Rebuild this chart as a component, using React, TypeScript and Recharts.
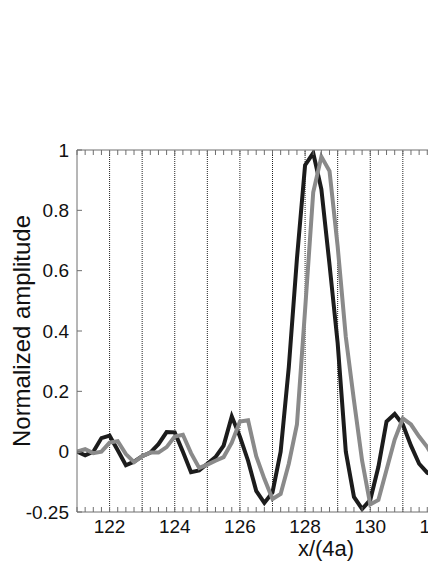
import React from 'react';
import { LineChart, Line, XAxis, YAxis, ReferenceLine } from 'recharts';

const xValues = [
  121, 121.25, 121.5, 121.75, 122, 122.25, 122.5, 122.75, 123, 123.25, 123.5, 123.75,
  124, 124.25, 124.5, 124.75, 125, 125.25, 125.5, 125.75, 126, 126.25, 126.5, 126.75,
  127, 127.25, 127.5, 127.75, 128, 128.25, 128.5, 128.75, 129, 129.25, 129.5, 129.75,
  130, 130.25, 130.5, 130.75, 131, 131.25, 131.5, 131.75, 132, 132.25,
];

const blackSeries = [
  0.0, -0.012, 0.0, 0.045, 0.053, 0.005, -0.045, -0.033, -0.015, -0.003, 0.025, 0.065,
  0.064, 0.0, -0.068, -0.062, -0.04, -0.018, 0.02, 0.117, 0.05, -0.03, -0.13, -0.17,
  -0.135, 0.0, 0.28, 0.64, 0.95, 0.99, 0.87, 0.62, 0.36, 0.0, -0.15, -0.19,
  -0.16, -0.05, 0.1, 0.125, 0.09, 0.02, -0.04, -0.07, -0.08, -0.07,
];

const graySeries = [
  0.0, 0.008, -0.005, 0.0, 0.03, 0.035, -0.008, -0.035, -0.015, -0.003, -0.003, 0.015,
  0.05, 0.056, -0.005, -0.054, -0.043, -0.03, -0.018, 0.03, 0.1, 0.104, -0.015, -0.09,
  -0.157, -0.14, -0.04, 0.09, 0.47, 0.86, 0.978, 0.93, 0.68, 0.38, 0.17, -0.03,
  -0.175, -0.16, -0.06, 0.04, 0.11, 0.09, 0.05, 0.015, -0.03, -0.06,
];

const xMinorTicks = [
  121, 121.25, 121.5, 121.75, 122, 122.25, 122.5, 122.75, 123, 123.25, 123.5, 123.75,
  124, 124.25, 124.5, 124.75, 125, 125.25, 125.5, 125.75, 126, 126.25, 126.5, 126.75,
  127, 127.25, 127.5, 127.75, 128, 128.25, 128.5, 128.75, 129, 129.25, 129.5, 129.75,
  130, 130.25, 130.5, 130.75, 131, 131.25, 131.5, 131.75, 132, 132.25, 132.5, 132.75, 133,
];
const xLabelTicks = [122, 124, 126, 128, 130, 132];
const gridX = [122, 123, 124, 125, 126, 127, 128, 129, 130, 131, 132];
const yTicks = [-0.2, 0, 0.2, 0.4, 0.6, 0.8, 1];
const yTickLabels = ['-0.25', '0', '0.2', '0.4', '0.6', '0.8', '1'];

const FONT = 'Liberation Sans, Arial, Helvetica, sans-serif';
const AXIS_GRAY = '#6e6e6e';

const data = xValues.map((x, i) => ({ x, black: blackSeries[i], gray: graySeries[i] }));

const BottomTick = (props: any) => {
  const { x, y } = props;
  return <line x1={x} x2={x} y1={y} y2={y - 5} stroke={AXIS_GRAY} strokeWidth={1} />;
};

const BottomLabel = (props: any) => {
  const { x, y, payload } = props;
  return (
    <text x={x} y={y + 20} textAnchor="middle" fontSize={19} fill="#111" fontFamily={FONT}>
      {payload.value}
    </text>
  );
};

const TopTick = (props: any) => {
  const { x, y } = props;
  return <line x1={x} x2={x} y1={y} y2={y + 5} stroke={AXIS_GRAY} strokeWidth={1} />;
};

const LeftTick = (props: any) => {
  const { x, y, payload } = props;
  const idx = yTicks.indexOf(payload.value);
  const label = idx >= 0 ? yTickLabels[idx] : String(payload.value);
  return (
    <g>
      <line x1={x + 8} x2={x + 13} y1={y} y2={y} stroke={AXIS_GRAY} strokeWidth={1} />
      <text x={x} y={y} dy={6.5} textAnchor="end" fontSize={19} fill="#111" fontFamily={FONT}>
        {label}
      </text>
    </g>
  );
};

const XLabel = (props: any) => {
  const vb = props.viewBox || { x: 69, y: 504 };
  return (
    <text x={vb.x + 249} y={vb.y + 43} textAnchor="middle" fontSize={22} fill="#111" fontFamily={FONT}>
      x/(4a)
    </text>
  );
};

const YLabel = () => {
  const cx = 22;
  const cy = 323;
  return (
    <text
      x={cx}
      y={cy}
      transform={`rotate(-90 ${cx} ${cy})`}
      textAnchor="middle"
      fontSize={24}
      fill="#111"
      fontFamily={FONT}
    >
      Normalized amplitude
    </text>
  );
};

export default function App() {
  return (
    <div style={{ width: 428, height: 556, overflow: 'hidden' }}>
      <LineChart
        width={480}
        height={556}
        data={data}
        margin={{ top: 141, right: 20, bottom: 0, left: 0 }}
      >
        <XAxis
          dataKey="x"
          type="number"
          domain={[121, 133]}
          ticks={xMinorTicks}
          interval={0}
          allowDataOverflow
          height={1}
          tickSize={0}
          tickMargin={0}
          tickLine={false}
          tick={<BottomTick />}
          axisLine={{ stroke: AXIS_GRAY, strokeWidth: 1 }}
        />
        <XAxis
          xAxisId="labels"
          dataKey="x"
          type="number"
          domain={[121, 133]}
          ticks={xLabelTicks}
          interval={0}
          allowDataOverflow
          height={51}
          tickSize={0}
          tickMargin={0}
          tickLine={false}
          tick={<BottomLabel />}
          axisLine={false}
          label={<XLabel />}
        />
        <XAxis
          xAxisId="top"
          orientation="top"
          dataKey="x"
          type="number"
          domain={[121, 133]}
          ticks={xMinorTicks}
          interval={0}
          allowDataOverflow
          height={1}
          tickSize={0}
          tickMargin={0}
          tickLine={false}
          tick={<TopTick />}
          axisLine={{ stroke: AXIS_GRAY, strokeWidth: 1 }}
        />
        <YAxis
          type="number"
          domain={[-0.2, 1]}
          ticks={yTicks}
          interval={0}
          allowDataOverflow
          width={69}
          tickSize={0}
          tickMargin={8}
          tickLine={false}
          tick={<LeftTick />}
          axisLine={{ stroke: AXIS_GRAY, strokeWidth: 1 }}
          label={<YLabel />}
        />
        {gridX.map((g) => (
          <ReferenceLine
            key={g}
            x={g}
            stroke="#222"
            strokeWidth={1}
            strokeDasharray="1 1"
            ifOverflow="hidden"
          />
        ))}
        <Line
          dataKey="black"
          stroke="#1c1c1c"
          strokeWidth={4}
          dot={false}
          activeDot={false}
          isAnimationActive={false}
          strokeLinejoin="miter"
        />
        <Line
          dataKey="gray"
          stroke="#8a8a8a"
          strokeWidth={4}
          dot={false}
          activeDot={false}
          isAnimationActive={false}
          strokeLinejoin="miter"
        />
      </LineChart>
    </div>
  );
}
